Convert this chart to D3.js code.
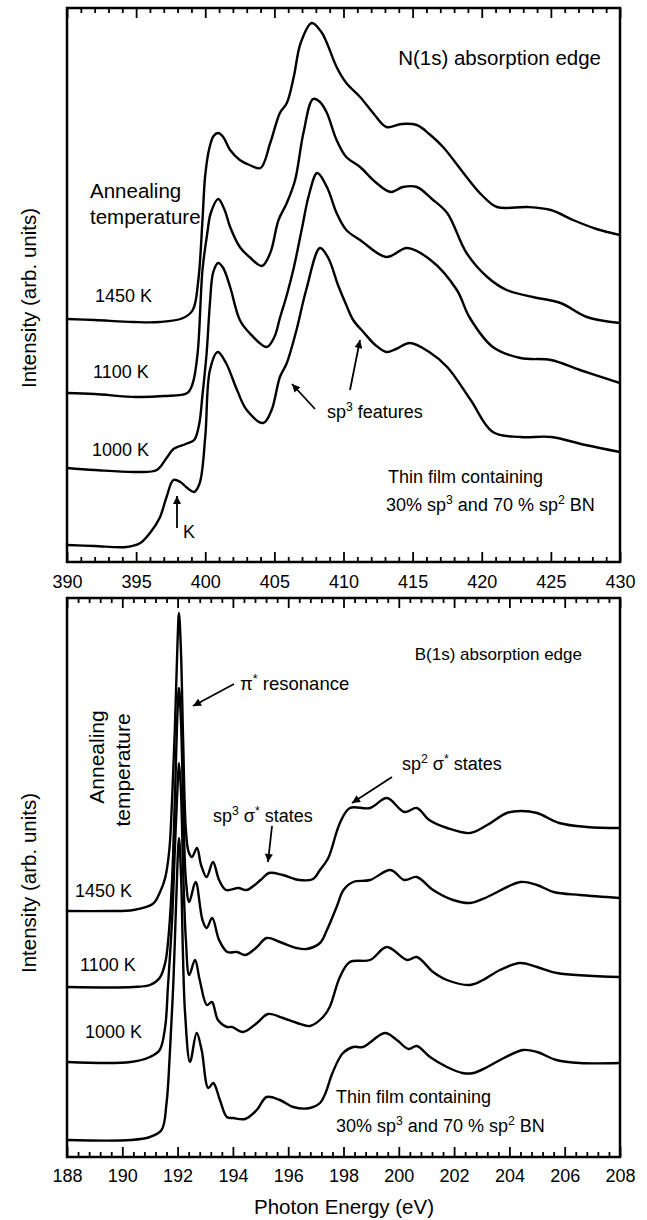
<!DOCTYPE html>
<html>
<head>
<meta charset="utf-8">
<script src="https://cdn.jsdelivr.net/npm/d3@7/dist/d3.min.js"></script>
<style>
  html, body { margin: 0; padding: 0; background: #fff; }
  svg { display: block; }
  text { font-family: "Liberation Sans", Arial, Helvetica, sans-serif; fill: #000; }
</style>
</head>
<body>
<svg id="chart" width="647" height="1220"></svg>
<script>
// ---------- DATA (arbitrary units incl. stacking offset) ----------
// N(1s) edge, photon energy (eV) vs intensity
const nTicksMajor = [390, 395, 400, 405, 410, 415, 420, 425, 430];
const n1450 = [[390,48.6],[392,48.4],[394.8,48.0],[396.7,48.0],[398.4,48.8],[399.1,50.4],[399.5,56.4],[399.8,68.4],[400.0,77.4],[400.3,82.8],[400.6,85.2],[400.94,85.8],[401.3,85.0],[401.8,82.4],[402.5,80.4],[403.2,79.4],[404.0,78.8],[404.7,83.8],[405.4,89.8],[405.9,91.8],[406.4,97.0],[406.9,103.8],[407.7,107.8],[408.4,106.0],[408.8,103.8],[409.5,99.0],[410.2,95.8],[411.2,93.0],[412.2,89.6],[413.1,87.0],[414.2,87.6],[415.3,87.4],[416.2,85.6],[417.2,83.0],[418.9,77.0],[420.0,73.4],[421.1,71.0],[423.3,71.0],[425.0,70.4],[426.6,68.4],[428.3,66.6],[430,65.4]];
const n1100 = [[390,33.8],[392,33.6],[395,33.0],[397,33.2],[398.7,33.8],[399.1,35.8],[399.45,41.8],[399.8,58.4],[400.15,65.8],[400.4,69.8],[400.94,72.6],[401.4,70.4],[401.8,67.0],[402.5,63.0],[403.2,61.0],[404.1,59.2],[404.7,61.8],[405.3,68.4],[405.9,71.8],[406.5,76.4],[407.1,85.8],[407.8,92.6],[408.3,92.0],[408.8,89.8],[409.5,84.4],[410.2,81.0],[411.2,79.0],[412.3,76.0],[413.4,74.0],[414.3,75.0],[415.3,75.0],[416.4,72.6],[417.5,69.8],[418.9,61.8],[420.4,57.0],[421.8,54.4],[423.7,53.0],[425.7,51.8],[427.6,49.0],[430,47.8]];
const n1000 = [[390,18.8],[392,18.4],[395,18.0],[396.5,18.4],[397.2,20.8],[397.7,22.6],[398.6,23.6],[399.2,24.4],[399.55,27.4],[399.8,33.4],[400.1,41.8],[400.34,51.8],[400.58,58.0],[400.94,59.8],[401.3,58.8],[401.8,55.0],[402.5,48.4],[403.2,45.8],[404.44,43.0],[405.0,45.0],[405.4,48.8],[405.9,53.4],[406.4,58.8],[407.0,66.8],[407.5,73.4],[408.1,77.8],[408.8,75.0],[409.5,69.8],[410.2,66.4],[411.2,64.4],[413.1,61.0],[414.6,62.8],[416.3,60.4],[418.2,54.4],[419.1,49.0],[420.8,43.0],[422.8,40.8],[425,40.4],[427.1,38.4],[430,35.8]];
const nAsDep = [[390,3.4],[392,3.2],[394.3,3.0],[395.3,3.8],[396.0,5.8],[396.7,8.8],[397.2,13.0],[397.7,16.4],[398.2,16.0],[398.7,14.8],[399.2,14.0],[399.6,15.8],[400.0,25.0],[400.34,38.4],[400.9,42.0],[401.5,39.8],[402.3,34.4],[403.0,30.4],[404.2,27.8],[404.8,30.4],[405.4,37.0],[405.9,39.8],[406.6,46.4],[407.3,54.4],[408.3,62.8],[408.9,60.8],[409.6,55.4],[410.2,51.4],[410.7,48.4],[411.5,45.8],[412.3,43.4],[413.1,42.0],[413.8,42.6],[414.8,43.8],[416.2,42.0],[417.5,39.0],[419.2,32.4],[420.8,26.0],[422.8,25.0],[425,25.0],[427.5,23.4],[430,22.0]];

// B(1s) edge
const bTicksMajor = [188, 190, 192, 194, 196, 198, 200, 202, 204, 206, 208];
const b1450 = [[188,49.2],[189.5,49.2],[190.4,49.4],[191.1,50.6],[191.35,52.8],[191.55,55.8],[191.7,61.4],[191.8,71.4],[191.9,85.4],[192.0,103.4],[192.05,108.8],[192.12,101.4],[192.2,83.4],[192.3,65.4],[192.4,61.0],[192.52,60.0],[192.7,61.8],[192.85,58.4],[193.05,56.0],[193.28,59.0],[193.5,55.4],[193.75,53.4],[194.2,53.8],[194.5,53.4],[195.0,55.4],[195.3,56.8],[195.8,56.4],[196.4,55.4],[196.9,55.6],[197.15,57.4],[197.45,59.8],[197.87,66.8],[198.23,69.8],[198.96,69.8],[199.57,71.8],[200.2,69.0],[200.65,69.8],[201.1,67.4],[201.75,65.8],[202.58,64.8],[203.2,66.4],[203.9,68.8],[204.4,69.2],[205.0,68.8],[205.8,66.8],[206.8,66.0],[208,65.8]];
const b1100 = [[188,34.0],[190.4,34.0],[191.0,34.4],[191.35,35.8],[191.55,38.8],[191.67,44.0],[191.8,55.4],[191.9,71.4],[192.0,89.4],[192.05,93.8],[192.12,87.4],[192.2,71.4],[192.3,55.4],[192.42,51.0],[192.65,55.0],[192.9,47.4],[193.05,45.8],[193.25,47.8],[193.5,43.4],[193.8,41.0],[194.15,41.0],[194.45,40.4],[194.87,42.0],[195.22,43.8],[195.7,43.0],[196.3,41.8],[196.66,41.6],[197.15,42.8],[197.4,45.4],[197.75,50.0],[198.0,53.4],[198.35,55.0],[198.96,55.4],[199.7,57.4],[200.2,55.4],[200.65,56.0],[201.24,53.4],[201.96,51.4],[202.58,50.8],[203.2,52.0],[204.4,55.0],[205.0,54.4],[205.6,53.0],[206.55,52.4],[208,51.8]];
const b1000 = [[188,19.0],[190.3,19.0],[191.0,20.0],[191.35,21.4],[191.55,26.0],[191.65,34.0],[191.8,47.4],[191.9,61.4],[192.0,74.4],[192.05,78.8],[192.12,73.4],[192.2,57.4],[192.3,43.4],[192.42,36.4],[192.63,39.4],[192.8,35.4],[193.06,30.4],[193.24,31.0],[193.46,27.4],[193.79,26.0],[193.97,26.0],[194.37,25.0],[194.87,26.8],[195.27,28.6],[195.81,27.8],[196.32,26.8],[196.79,26.2],[197.26,28.0],[197.5,30.0],[197.87,36.0],[198.23,39.0],[198.96,39.4],[199.57,42.0],[200.3,39.4],[200.65,40.0],[201.24,37.0],[201.74,35.4],[202.58,34.4],[203.05,35.4],[203.66,37.4],[204.38,38.8],[205.0,38.0],[205.72,36.8],[208,36.0]];
const bAsDep = [[188,3.4],[190.3,3.4],[191.0,4.0],[191.42,5.4],[191.6,10.8],[191.72,20.8],[191.85,35.4],[191.95,51.4],[192.05,63.8],[192.13,55.4],[192.19,41.4],[192.27,28.8],[192.45,19.0],[192.69,24.8],[192.87,21.4],[193.11,13.8],[193.29,14.8],[193.53,11.4],[193.78,8.0],[194.01,7.8],[194.44,7.6],[194.86,9.4],[195.22,12.0],[195.7,11.4],[196.18,10.0],[196.79,9.8],[197.15,10.8],[197.35,12.8],[197.6,16.8],[197.98,20.8],[198.35,22.0],[198.7,22.0],[199.5,24.8],[199.93,23.4],[200.35,21.6],[200.65,22.2],[201.13,20.0],[201.74,18.0],[202.3,16.8],[202.7,16.8],[203.2,18.0],[203.8,19.8],[204.5,21.4],[205.0,21.0],[205.7,19.4],[206.55,18.8],[208,18.8]];

const tempLabels = ["1450 K", "1100 K", "1000 K"];

// ---------- LAYOUT ----------
const svg = d3.select("#chart");
const FONT = '"Liberation Sans", Arial, Helvetica, sans-serif';
const L = 67, R = 620;

const defs = svg.append("defs");
defs.append("marker").attr("id", "ah").attr("viewBox", "0 0 10 10")
  .attr("refX", 10).attr("refY", 5).attr("markerWidth", 10).attr("markerHeight", 8)
  .attr("markerUnits", "userSpaceOnUse").attr("orient", "auto")
  .append("path").attr("d", "M0,0 L10,5 L0,10 Z").attr("fill", "#000");

function panel(cfg) {
  const x = d3.scaleLinear().domain(cfg.xDomain).range([L, R]);
  const y = d3.scaleLinear().domain(cfg.yDomain).range([cfg.bottom, cfg.top]);
  const g = svg.append("g");
  const clipId = "clip" + cfg.top;
  defs.append("clipPath").attr("id", clipId).append("rect")
    .attr("x", L).attr("y", cfg.top).attr("width", R - L).attr("height", cfg.bottom - cfg.top);

  const line = d3.line().x(d => x(d[0])).y(d => y(d[1])).curve(d3.curveCatmullRom.alpha(0.5));
  g.append("g").attr("clip-path", `url(#${clipId})`).selectAll("path").data(cfg.series).join("path")
    .attr("d", line).attr("fill", "none").attr("stroke", "#000")
    .attr("stroke-width", 2.4).attr("stroke-linejoin", "round");

  const minor = d3.range(cfg.xDomain[0], cfg.xDomain[1] + 1e-9, cfg.minorStep)
    .filter(v => !cfg.major.some(m => Math.abs(m - v) < 1e-6));
  const axB = d3.axisBottom(x).tickValues(cfg.major).tickSizeInner(-10).tickSizeOuter(0)
    .tickPadding(cfg.pad).tickFormat(d3.format("d"));
  const gb = g.append("g").attr("transform", `translate(0,${cfg.bottom})`).call(axB);
  gb.selectAll("text").attr("font-family", FONT).attr("font-size", 18).attr("fill", "#000");
  g.append("g").attr("transform", `translate(0,${cfg.bottom})`)
    .call(d3.axisBottom(x).tickValues(minor).tickSizeInner(-5).tickSizeOuter(0).tickFormat(""));
  g.append("g").attr("transform", `translate(0,${cfg.top})`)
    .call(d3.axisTop(x).tickValues(cfg.major).tickSizeInner(-10).tickSizeOuter(0).tickFormat(""));
  g.append("g").attr("transform", `translate(0,${cfg.top})`)
    .call(d3.axisTop(x).tickValues(minor).tickSizeInner(-5).tickSizeOuter(0).tickFormat(""));
  g.selectAll(".domain").remove();
  g.selectAll(".tick line").attr("stroke", "#000").attr("stroke-width", 1.8);

  g.append("rect").attr("x", L).attr("y", cfg.top).attr("width", R - L)
    .attr("height", cfg.bottom - cfg.top).attr("fill", "none")
    .attr("stroke", "#000").attr("stroke-width", 2.5);

  g.append("text").attr("transform", `translate(36,${cfg.yTitleY}) rotate(-90)`)
    .attr("text-anchor", "middle").attr("font-size", 20.5).text("Intensity (arb. units)");
  return { x, y, g };
}

// text with optional superscripts: parts are strings or {sup, up}
function txt(g, x, y, size, parts, anchor) {
  const t = g.append("text").attr("x", x).attr("y", y).attr("font-size", size)
    .attr("text-anchor", anchor || "start");
  let pending = 0;
  parts.forEach(p => {
    if (typeof p === "string") {
      const s = t.append("tspan").text(p);
      if (pending) { s.attr("dy", pending); pending = 0; }
    } else {
      t.append("tspan").attr("dy", -p.up).attr("font-size", size * 0.68).text(p.sup);
      pending = p.up;
    }
  });
  return t;
}
function sup(s) { return { sup: s, up: 7 }; }
function arrow(g, x1, y1, x2, y2) {
  g.append("line").attr("x1", x1).attr("y1", y1).attr("x2", x2).attr("y2", y2)
    .attr("stroke", "#000").attr("stroke-width", 1.8).attr("marker-end", "url(#ah)");
}

// ---------- TOP PANEL: N(1s) ----------
const pTop = panel({
  xDomain: [390, 430], yDomain: [0, 110.8], top: 8, bottom: 562,
  major: nTicksMajor, minorStep: 1, pad: 13, yTitleY: 298,
  series: [n1450, n1100, n1000, nAsDep]
});
txt(pTop.g, 601, 65, 20.5, ["N(1s) absorption edge"], "end");
txt(pTop.g, 90, 198, 20.5, ["Annealing"]);
txt(pTop.g, 90, 224, 20.5, ["temperature"]);
[[95, 302], [93, 378], [92, 456]].forEach((p, i) => txt(pTop.g, p[0], p[1], 18, [tempLabels[i]]));
txt(pTop.g, 183, 538, 18, ["K"]);
arrow(pTop.g, 177, 528, 177, 496);
txt(pTop.g, 327, 418, 18, ["sp", sup("3"), " features"]);
arrow(pTop.g, 315, 409, 292, 384);
arrow(pTop.g, 350, 390, 360, 340);
txt(pTop.g, 388, 483, 18, ["Thin film containing"]);
txt(pTop.g, 386, 511, 18, ["30% sp", sup("3"), " and 70 % sp", sup("2"), " BN"]);

// ---------- BOTTOM PANEL: B(1s) ----------
const pBot = panel({
  xDomain: [188, 208], yDomain: [0, 111.8], top: 598, bottom: 1157,
  major: bTicksMajor, minorStep: 0.4, pad: 12, yTitleY: 883,
  series: [b1450, b1100, b1000, bAsDep]
});
txt(pBot.g, 582, 660, 17, ["B(1s) absorption edge"], "end");
txt(pBot.g, 240, 690, 18.5, ["\u03c0", sup("*"), " resonance"]);
arrow(pBot.g, 234, 684, 193, 706);
pBot.g.append("text").attr("transform", "translate(104,757) rotate(-90)")
  .attr("text-anchor", "middle").attr("font-size", 21).text("Annealing");
pBot.g.append("text").attr("transform", "translate(130,770) rotate(-90)")
  .attr("text-anchor", "middle").attr("font-size", 21).text("temperature");
txt(pBot.g, 213, 822, 18, ["sp", sup("3"), " \u03c3", sup("*"), " states"]);
arrow(pBot.g, 272, 826, 268, 862);
txt(pBot.g, 402, 770, 18, ["sp", sup("2"), " \u03c3", sup("*"), " states"]);
arrow(pBot.g, 392, 777, 352, 803);
[[75, 897], [80, 971], [85, 1038]].forEach((p, i) => txt(pBot.g, p[0], p[1], 18, [tempLabels[i]]));
txt(pBot.g, 336, 1103, 18, ["Thin film containing"]);
txt(pBot.g, 336, 1132, 18, ["30% sp", sup("3"), " and 70 % sp", sup("2"), " BN"]);

svg.append("text").attr("x", 344).attr("y", 1214).attr("text-anchor", "middle")
  .attr("font-size", 20.5).text("Photon Energy (eV)");
</script>
</body>
</html>
